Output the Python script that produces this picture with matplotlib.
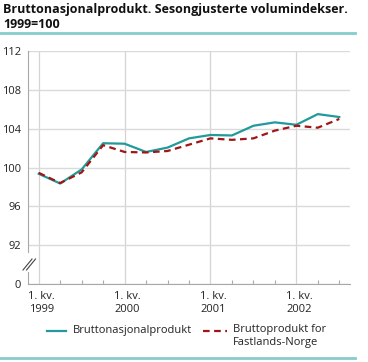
import numpy as np
import matplotlib
matplotlib.use("Agg")
import matplotlib.pyplot as plt
import matplotlib.transforms as mtransforms
from matplotlib.lines import Line2D

plt.rcParams['font.family'] = ['Open Sans', 'DejaVu Sans']

# quarterly index, 1999 Q1 .. 2002 Q3 (1999=100)
quarters = np.arange(15)
bnp = [99.35, 98.35, 99.8, 102.5, 102.45, 101.6, 102.05, 103.0,
       103.35, 103.3, 104.3, 104.65, 104.4, 105.5, 105.2]
fastland = [99.45, 98.4, 99.5, 102.3, 101.6, 101.55, 101.7, 102.35,
            103.0, 102.85, 103.0, 103.8, 104.3, 104.1, 105.0]
year_labels = ["1. kv.\n1999", "1. kv.\n2000", "1. kv.\n2001", "1. kv.\n2002"]
ytick_vals = [88, 92, 96, 100, 104, 108, 112]
ytick_labels = ["0", "92", "96", "100", "104", "108", "112"]
series_names = ["Bruttonasjonalprodukt", "Bruttoprodukt for\nFastlands-Norge"]

TEAL = "#22999a"
RED = "#a01515"
RULE = "#86cccc"
GRID = "#dadada"

W, H = 368, 362
fig = plt.figure(figsize=(W / 100, H / 100), dpi=100)
ax = fig.add_axes([28 / W, 1 - 284 / H, 322 / W, 233 / H])

ax.plot(quarters, bnp, color=TEAL, lw=1.6, zorder=3)
ax.plot(quarters, fastland, color=RED, lw=1.6, dashes=(3, 2), zorder=4)

ax.set_xlim(-0.5, 14.5)
ax.set_ylim(88, 112)
ax.set_yticks(ytick_vals)
ax.set_yticklabels(ytick_labels)
ax.set_xticks([0, 4, 8, 12])
ax.set_xticklabels(year_labels, linespacing=1.25)
ax.set_xticks(quarters, minor=True)

ax.grid(axis="y", color=GRID, lw=1.0)
ax.grid(axis="x", color="#d4d4d4", lw=0.9)
ax.set_axisbelow(True)

for s in ["top", "right", "left"]:
    ax.spines[s].set_visible(False)
ax.spines["bottom"].set_color("#a8a8a8")
ax.spines["bottom"].set_linewidth(0.8)

ax.tick_params(axis="y", length=0, pad=5, labelsize=8, colors="#222222")
ax.tick_params(axis="x", which="major", length=0, pad=5, labelsize=8,
               colors="#222222")
ax.tick_params(axis="x", which="minor", direction="in", length=3,
               width=0.8, color="#a8a8a8")
shift = mtransforms.ScaledTranslation(3 / 100, 0, fig.dpi_scale_trans)
for lab in ax.get_xticklabels():
    lab.set_horizontalalignment("center")
    lab.set_transform(lab.get_transform() + shift)

# broken y axis
ytr = ax.get_yaxis_transform()
ax.plot([0, 0], [91.3, 112], transform=ytr, color="#a8a8a8", lw=0.8,
        clip_on=False)
ax.plot([0, 0], [88, 89.2], transform=ytr, color="#a8a8a8", lw=0.8,
        clip_on=False)
for dx in (0, 3.5):
    fig.add_artist(Line2D([(23 + dx) / W, (32 + dx) / W],
                          [1 - 270 / H, 1 - 259 / H],
                          color="#444444", lw=0.8))

# title and rules
fig.text(3 / W, 1 - 3 / H,
         "Bruttonasjonalprodukt. Sesongjusterte volumindekser.\n1999=100",
         ha="left", va="top", fontsize=9, fontweight="bold",
         linespacing=1.2, color="#111111")
fig.add_artist(Line2D([0, 355 / W], [1 - 33 / H] * 2, color=RULE, lw=2))
fig.add_artist(Line2D([0, 355 / W], [1 - 358 / H] * 2, color=RULE, lw=2))

# legend
ly = 1 - 331 / H
fig.add_artist(Line2D([47 / W, 66 / W], [ly, ly], color=TEAL, lw=1.6))
fig.text(73 / W, ly, series_names[0], ha="left", va="center", fontsize=8,
         color="#222222")
fig.add_artist(Line2D([203 / W, 227 / W], [ly, ly], color=RED, lw=1.6,
                      dashes=(3, 2)))
fig.text(233 / W, 1 - 324 / H, series_names[1], ha="left", va="top",
         fontsize=8, linespacing=1.3, color="#222222")

fig.savefig("out.png", dpi=100)
